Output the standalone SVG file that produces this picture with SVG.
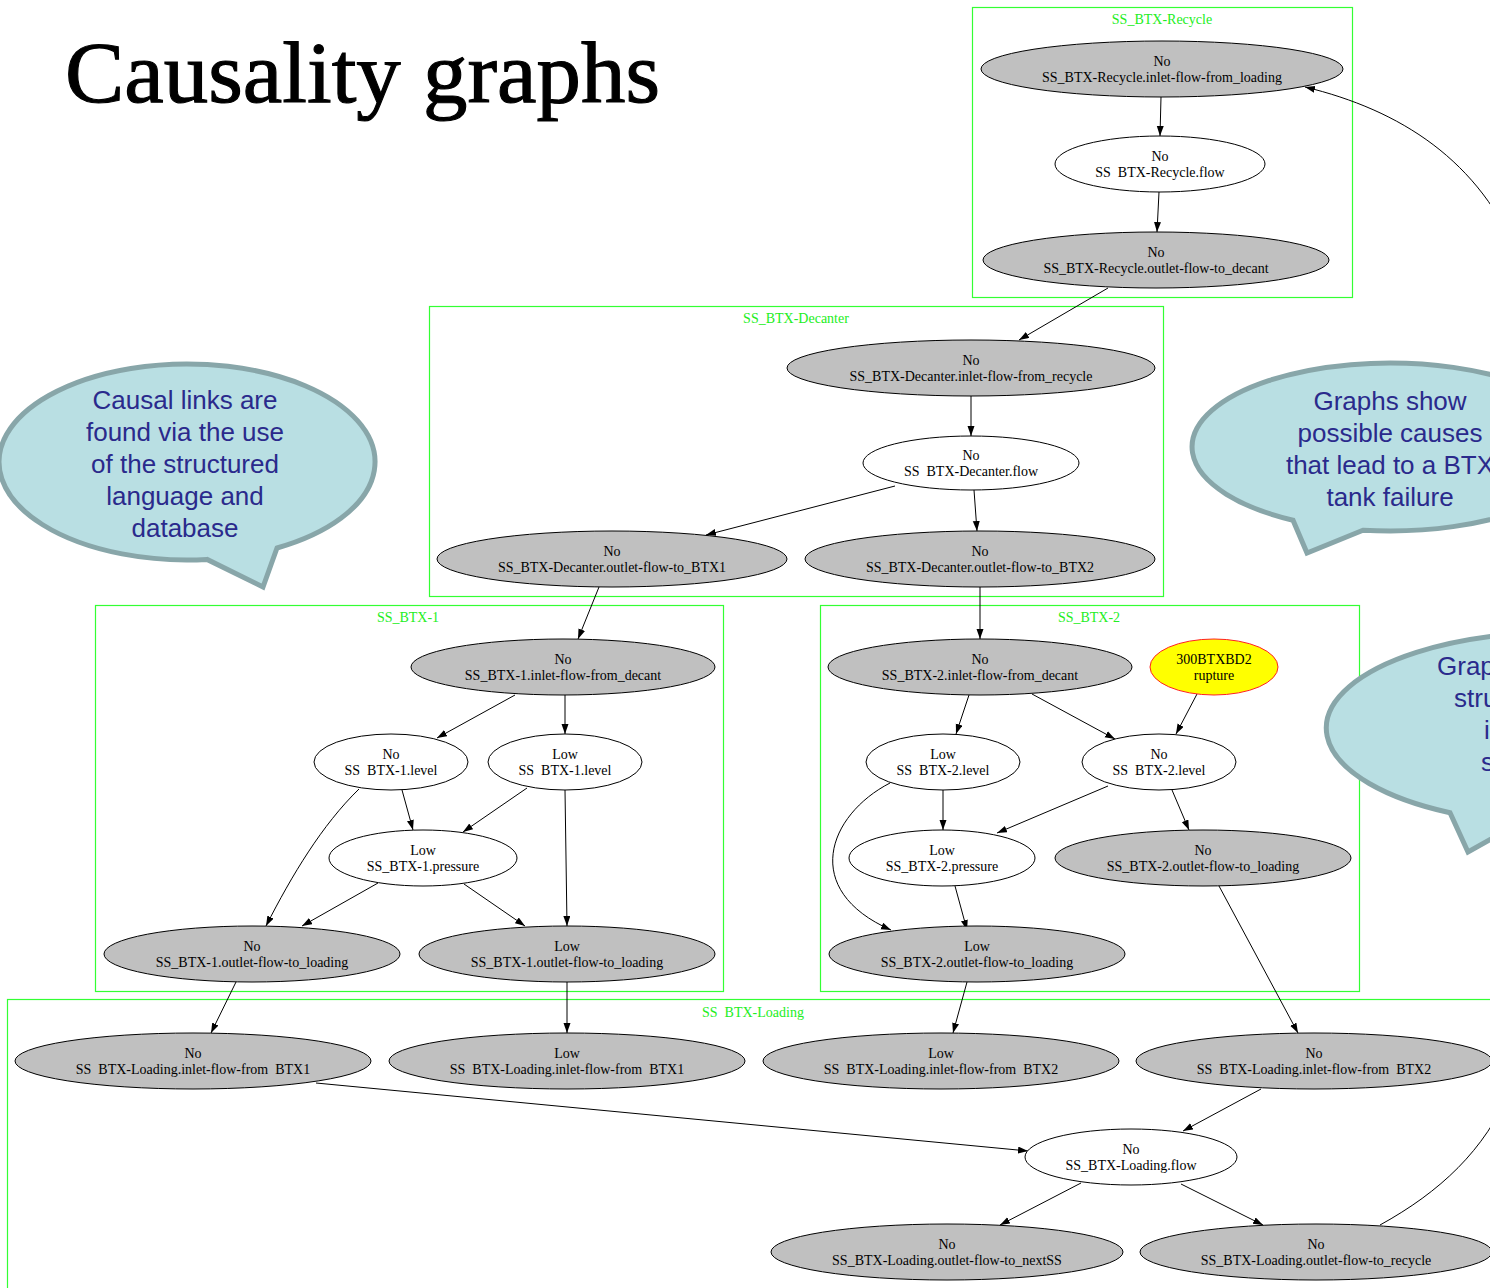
<svg xmlns="http://www.w3.org/2000/svg" width="1490" height="1288" viewBox="0 0 1490 1288">
  <style>
    .title { font-family: "Liberation Serif", "DejaVu Serif", serif; font-size: 86px; fill: #000; stroke: #000; stroke-width: 1.1; }
    .cluster { fill: none; stroke: #33ff33; stroke-width: 1.2; }
    .clabel { font-family: "Liberation Serif", serif; font-size: 14px; fill: #22ee22; text-anchor: middle; white-space: pre; }
    .n { stroke: #000; stroke-width: 1; }
    .gray { fill: #c0c0c0; }
    .white { fill: #ffffff; }
    .fault { fill: #ffff00; stroke: #ff2020; }
    .t { font-family: "Liberation Serif", serif; font-size: 14px; fill: #000; text-anchor: middle; white-space: pre; }
    .edge { fill: none; stroke: #000; stroke-width: 1; marker-end: url(#arrow); }
    .bubble { fill: #b9dfe3; stroke: #88a6a9; stroke-width: 5; stroke-linejoin: miter; }
    .bt { font-family: "Liberation Sans", Arial, sans-serif; font-size: 26px; fill: #2a2a8c; text-anchor: middle; }
    .bts { font-family: "Liberation Sans", Arial, sans-serif; font-size: 26px; fill: #2a2a8c; }
  </style>
  <defs>
    <marker id="arrow" markerUnits="userSpaceOnUse" markerWidth="11" markerHeight="8" refX="10" refY="3.5" orient="auto">
      <path d="M0,0 L10,3.5 L0,7 Z" fill="#000"/>
    </marker>
  </defs>

  <rect width="1490" height="1288" fill="#fff"/>

  <text class="title" x="65" y="102" textLength="595" lengthAdjust="spacingAndGlyphs">Causality graphs</text>

  <!-- subsystem clusters -->
  <g id="clusters">
    <rect class="cluster" x="972.5" y="7.5" width="380" height="290"/>
    <text class="clabel" x="1162" y="24">SS_BTX-Recycle</text>
    <rect class="cluster" x="429.5" y="306.5" width="734" height="290"/>
    <text class="clabel" x="796" y="323">SS_BTX-Decanter</text>
    <rect class="cluster" x="95.5" y="605.5" width="628" height="386"/>
    <text class="clabel" x="408" y="622">SS_BTX-1</text>
    <rect class="cluster" x="820.5" y="605.5" width="539" height="386"/>
    <text class="clabel" x="1089" y="622">SS_BTX-2</text>
    <rect class="cluster" x="7.5" y="999.5" width="1500" height="300"/>
    <text class="clabel" x="753" y="1017">SS  BTX-Loading</text>
  </g>

  <!-- connectors -->
  <g id="edges">
    <path class="edge" d="M1161,97 L1160,136"/>
    <path class="edge" d="M1159,192 L1157,232"/>
    <path class="edge" d="M1108,288 L1019,340"/>
    <path class="edge" d="M971,396 L971,436"/>
    <path class="edge" d="M895,486 L706,535"/>
    <path class="edge" d="M974,490 L977,531"/>
    <path class="edge" d="M599,587 L578,639"/>
    <path class="edge" d="M980,587 L980,639"/>
    <path class="edge" d="M515,695 L437,738"/>
    <path class="edge" d="M565,695 L565,734"/>
    <path class="edge" d="M402,790 L413,830"/>
    <path class="edge" d="M359,789 C322,825 292,875 266,926"/>
    <path class="edge" d="M527,788 L463,832"/>
    <path class="edge" d="M565,790 L567,926"/>
    <path class="edge" d="M378,883 L302,926"/>
    <path class="edge" d="M464,884 L525,926"/>
    <path class="edge" d="M236,982 L211,1033"/>
    <path class="edge" d="M567,982 L567,1033"/>
    <path class="edge" d="M969,695 L956,734"/>
    <path class="edge" d="M1032,694 L1115,739"/>
    <path class="edge" d="M1197,694 L1176,734"/>
    <path class="edge" d="M943,790 L943,830"/>
    <path class="edge" d="M890,783 C828,815 800,890 891,930"/>
    <path class="edge" d="M1108,786 L997,833"/>
    <path class="edge" d="M1172,790 L1189,830"/>
    <path class="edge" d="M955,886 L967,930"/>
    <path class="edge" d="M1219,886 L1298,1033"/>
    <path class="edge" d="M967,982 L953,1033"/>
    <path class="edge" d="M1261,1089 L1183,1131"/>
    <path class="edge" d="M316,1083 L1028,1151"/>
    <path class="edge" d="M1081,1183 L1000,1225"/>
    <path class="edge" d="M1181,1184 L1263,1225"/>
    <!-- feedback loop from loading back to recycle, routed past the right edge -->
    <path class="edge" d="M1380,1225 C1440,1192 1485,1150 1510,1090 L1530,600 L1520,260 C1480,160 1400,110 1305,87"/>
  </g>

  <!-- SS_BTX-Recycle -->
  <g id="recycle-inlet"><ellipse class="n gray" cx="1162" cy="69" rx="181" ry="28"/><text class="t" x="1162" y="66">No</text><text class="t" x="1162" y="82">SS_BTX-Recycle.inlet-flow-from_loading</text></g>
  <g id="recycle-flow"><ellipse class="n white" cx="1160" cy="164" rx="105" ry="28"/><text class="t" x="1160" y="161">No</text><text class="t" x="1160" y="177">SS  BTX-Recycle.flow</text></g>
  <g id="recycle-outlet"><ellipse class="n gray" cx="1156" cy="260" rx="173" ry="28"/><text class="t" x="1156" y="257">No</text><text class="t" x="1156" y="273">SS_BTX-Recycle.outlet-flow-to_decant</text></g>

  <!-- SS_BTX-Decanter -->
  <g id="decanter-inlet"><ellipse class="n gray" cx="971" cy="368" rx="184" ry="28"/><text class="t" x="971" y="365">No</text><text class="t" x="971" y="381">SS_BTX-Decanter.inlet-flow-from_recycle</text></g>
  <g id="decanter-flow"><ellipse class="n white" cx="971" cy="463" rx="108" ry="27"/><text class="t" x="971" y="460">No</text><text class="t" x="971" y="476">SS  BTX-Decanter.flow</text></g>
  <g id="decanter-out1"><ellipse class="n gray" cx="612" cy="559" rx="175" ry="28"/><text class="t" x="612" y="556">No</text><text class="t" x="612" y="572">SS_BTX-Decanter.outlet-flow-to_BTX1</text></g>
  <g id="decanter-out2"><ellipse class="n gray" cx="980" cy="559" rx="175" ry="28"/><text class="t" x="980" y="556">No</text><text class="t" x="980" y="572">SS_BTX-Decanter.outlet-flow-to_BTX2</text></g>

  <!-- SS_BTX-1 -->
  <g id="btx1-inlet"><ellipse class="n gray" cx="563" cy="667" rx="152" ry="28"/><text class="t" x="563" y="664">No</text><text class="t" x="563" y="680">SS_BTX-1.inlet-flow-from_decant</text></g>
  <g id="btx1-level-no"><ellipse class="n white" cx="391" cy="762" rx="77" ry="28"/><text class="t" x="391" y="759">No</text><text class="t" x="391" y="775">SS  BTX-1.level</text></g>
  <g id="btx1-level-low"><ellipse class="n white" cx="565" cy="762" rx="77" ry="28"/><text class="t" x="565" y="759">Low</text><text class="t" x="565" y="775">SS  BTX-1.level</text></g>
  <g id="btx1-pressure"><ellipse class="n white" cx="423" cy="858" rx="94" ry="28"/><text class="t" x="423" y="855">Low</text><text class="t" x="423" y="871">SS_BTX-1.pressure</text></g>
  <g id="btx1-out-no"><ellipse class="n gray" cx="252" cy="954" rx="148" ry="28"/><text class="t" x="252" y="951">No</text><text class="t" x="252" y="967">SS_BTX-1.outlet-flow-to_loading</text></g>
  <g id="btx1-out-low"><ellipse class="n gray" cx="567" cy="954" rx="148" ry="28"/><text class="t" x="567" y="951">Low</text><text class="t" x="567" y="967">SS_BTX-1.outlet-flow-to_loading</text></g>

  <!-- SS_BTX-2 -->
  <g id="btx2-inlet"><ellipse class="n gray" cx="980" cy="667" rx="152" ry="28"/><text class="t" x="980" y="664">No</text><text class="t" x="980" y="680">SS_BTX-2.inlet-flow-from_decant</text></g>
  <g id="btx2-rupture"><ellipse class="fault" cx="1214" cy="667" rx="64" ry="28"/><text class="t" x="1214" y="664">300BTXBD2</text><text class="t" x="1214" y="680">rupture</text></g>
  <g id="btx2-level-low"><ellipse class="n white" cx="943" cy="762" rx="77" ry="28"/><text class="t" x="943" y="759">Low</text><text class="t" x="943" y="775">SS  BTX-2.level</text></g>
  <g id="btx2-level-no"><ellipse class="n white" cx="1159" cy="762" rx="77" ry="28"/><text class="t" x="1159" y="759">No</text><text class="t" x="1159" y="775">SS  BTX-2.level</text></g>
  <g id="btx2-pressure"><ellipse class="n white" cx="942" cy="858" rx="93" ry="28"/><text class="t" x="942" y="855">Low</text><text class="t" x="942" y="871">SS_BTX-2.pressure</text></g>
  <g id="btx2-out-no"><ellipse class="n gray" cx="1203" cy="858" rx="148" ry="28"/><text class="t" x="1203" y="855">No</text><text class="t" x="1203" y="871">SS_BTX-2.outlet-flow-to_loading</text></g>
  <g id="btx2-out-low"><ellipse class="n gray" cx="977" cy="954" rx="148" ry="28"/><text class="t" x="977" y="951">Low</text><text class="t" x="977" y="967">SS_BTX-2.outlet-flow-to_loading</text></g>

  <!-- SS_BTX-Loading -->
  <g id="loading-in1-no"><ellipse class="n gray" cx="193" cy="1061" rx="178" ry="28"/><text class="t" x="193" y="1058">No</text><text class="t" x="193" y="1074">SS  BTX-Loading.inlet-flow-from  BTX1</text></g>
  <g id="loading-in1-low"><ellipse class="n gray" cx="567" cy="1061" rx="178" ry="28"/><text class="t" x="567" y="1058">Low</text><text class="t" x="567" y="1074">SS  BTX-Loading.inlet-flow-from  BTX1</text></g>
  <g id="loading-in2-low"><ellipse class="n gray" cx="941" cy="1061" rx="178" ry="28"/><text class="t" x="941" y="1058">Low</text><text class="t" x="941" y="1074">SS  BTX-Loading.inlet-flow-from  BTX2</text></g>
  <g id="loading-in2-no"><ellipse class="n gray" cx="1314" cy="1061" rx="178" ry="28"/><text class="t" x="1314" y="1058">No</text><text class="t" x="1314" y="1074">SS  BTX-Loading.inlet-flow-from  BTX2</text></g>
  <g id="loading-flow"><ellipse class="n white" cx="1131" cy="1157" rx="106" ry="28"/><text class="t" x="1131" y="1154">No</text><text class="t" x="1131" y="1170">SS_BTX-Loading.flow</text></g>
  <g id="loading-out-next"><ellipse class="n gray" cx="947" cy="1252" rx="176" ry="28"/><text class="t" x="947" y="1249">No</text><text class="t" x="947" y="1265">SS_BTX-Loading.outlet-flow-to_nextSS</text></g>
  <g id="loading-out-recycle"><ellipse class="n gray" cx="1316" cy="1252" rx="176" ry="28"/><text class="t" x="1316" y="1249">No</text><text class="t" x="1316" y="1265">SS_BTX-Loading.outlet-flow-to_recycle</text></g>

  <!-- speech bubbles -->
  <g id="note-causal-links">
    <path class="bubble" d="M277,548 A188,98 0 1 0 207,559.4 L263,587 Z"/>
    <text class="bt" x="185" y="409">Causal links are</text>
    <text class="bt" x="185" y="441">found via the use</text>
    <text class="bt" x="185" y="473">of the structured</text>
    <text class="bt" x="185" y="505">language and</text>
    <text class="bt" x="185" y="537">database</text>
  </g>
  <g id="note-graphs-show">
    <path class="bubble" d="M1363,530.2 A198,84 0 1 0 1293,520.2 L1307,553 Z"/>
    <text class="bt" x="1390" y="410">Graphs show</text>
    <text class="bt" x="1390" y="442">possible causes</text>
    <text class="bt" x="1390" y="474">that lead to a BTX</text>
    <text class="bt" x="1390" y="506">tank failure</text>
  </g>
  <g id="note-graphs-structure">
    <path class="bubble" d="M1520,822.6 A234,96 0 1 0 1450,812.7 L1468,852 Z"/>
    <text class="bts" x="1437" y="675">Grap</text>
    <text class="bts" x="1454" y="707">stru</text>
    <text class="bts" x="1484" y="739">i</text>
    <text class="bts" x="1481" y="771">s</text>
  </g>
</svg>
